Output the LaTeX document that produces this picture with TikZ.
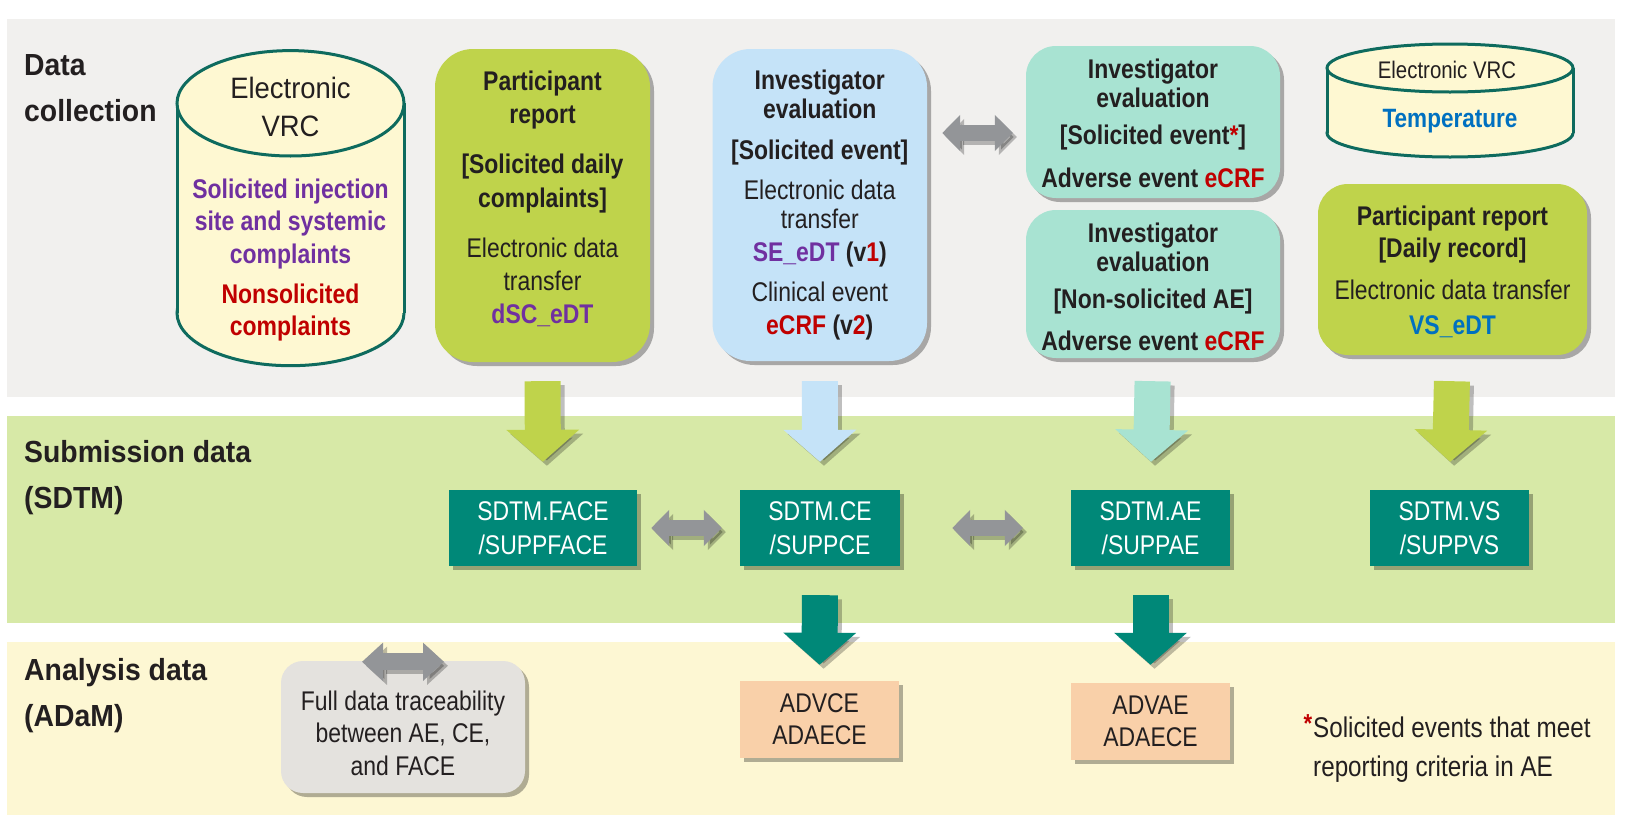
\documentclass[tikz,border=0pt]{standalone}
\usepackage{fontspec}
\setmainfont{Liberation Sans}
\newfontfamily\narf[FakeStretch=0.85]{Liberation Sans}
\newfontfamily\semif[FakeStretch=0.93]{Liberation Sans}
\usetikzlibrary{arrows.meta,shadows,calc}
\definecolor{bandgray}{HTML}{F1F0EE}
\definecolor{bandgreen}{HTML}{D7E9A7}
\definecolor{bandyellow}{HTML}{FDF7D3}
\definecolor{cylfill}{HTML}{FEF8D2}
\definecolor{cylline}{HTML}{0E6B5E}
\definecolor{cgreen}{HTML}{BFD34B}
\definecolor{cblue}{HTML}{C5E3F8}
\definecolor{cmint}{HTML}{A8E3D2}
\definecolor{cteal}{HTML}{008878}
\definecolor{cpeach}{HTML}{F9D0A9}
\definecolor{cgraybox}{HTML}{E4E2DE}
\definecolor{arrgray}{HTML}{939598}
\definecolor{cpurple}{HTML}{7030A0}
\definecolor{cred}{HTML}{C00000}
\definecolor{tblue}{HTML}{0070C0}
\definecolor{ink}{HTML}{231F20}
\newcommand\myfs[2]{\fontsize{#1}{#2}\selectfont}
\newcommand\blockarrow[3]{\draw[#1,arrshadow] #2 -- #3; \draw[#1] #2 -- #3;}
\tikzset{
 shadowed/.style={drop shadow={shadow xshift=4pt,shadow yshift=-4pt,opacity=0.3,fill=black}},
 box/.style={shadowed,inner sep=0pt,draw=none},
 txt/.style={inner sep=0pt,align=center,text=ink},
 lbl/.style={inner sep=0pt,align=left,anchor=west,text=ink,font=\semif\bfseries\myfs{30.5}{46}},
 sdtm/.style={box,fill=cteal,text=white,align=center,font=\narf\myfs{27}{34},minimum height=76pt},
 adv/.style={box,fill=cpeach,text=ink,align=center,font=\narf\myfs{27}{32},minimum height=77pt},
 downarr/.style={line width=36pt,-{Triangle[width=71pt,length=32pt]}},
 dblarr/.style={line width=16pt,draw=arrgray,{Triangle[width=35pt,length=18pt]}-{Triangle[width=35pt,length=18pt]}},
 dblarrb/.style={line width=17pt,draw=arrgray,{Triangle[width=37pt,length=21pt]}-{Triangle[width=37pt,length=21pt]}},
 arrshadow/.style={draw=black,opacity=0.25,transform canvas={xshift=4pt,yshift=-4pt}},
 cyl/.style={fill=cylfill,draw=cylline,line width=3pt},
}
\begin{document}
\begin{tikzpicture}[x=1pt,y=-1pt]
\useasboundingbox (0,0) rectangle (1625,830);
\fill[white] (0,0) rectangle (1625,830);
% bands
\fill[bandgray] (7,19) rectangle (1615,397);
\fill[bandgreen] (7,416) rectangle (1615,623);
\fill[bandyellow] (7,642) rectangle (1615,815);
% section labels
\node[lbl] (lcoll) at (24,88) {Data\\collection};
\node[lbl] (lsdtm) at (24,477.5) {Submission data\\(SDTM)};
\node[lbl] (ladam) at (24,695.5) {Analysis data\\(ADaM)};
% cylinder 1
\filldraw[cyl] (290.5,313) ellipse (113.5 and 52.7);
\fill[cylfill] (177,103.3) rectangle (404,313);
\draw[cylline,line width=3pt] (177,103.3) -- (177,313) (404,103.3) -- (404,313);
\filldraw[cyl] (290.5,103.3) ellipse (113.5 and 52.7);
\node[txt,font=\semif\myfs{29.5}{38}] (cyl1a) at (290.5,107) {Electronic\\VRC};
\node[txt,font=\narf\bfseries\myfs{27}{32.5}] (cyl1b) at (290.5,260) {\textcolor{cpurple}{Solicited injection}\\\textcolor{cpurple}{site and systemic}\\\textcolor{cpurple}{complaints}\\[7.5pt]\textcolor{cred}{Nonsolicited}\\\textcolor{cred}{complaints}};
% cylinder 2
\filldraw[cyl] (1450,133) ellipse (123 and 24);
\fill[cylfill] (1327,68) rectangle (1573,133);
\draw[cylline,line width=3pt] (1327,68) -- (1327,133) (1573,68) -- (1573,133);
\filldraw[cyl] (1450,68) ellipse (123 and 24);
\node[txt,font=\narf\myfs{24}{24}] (cyl2a) at (1447,70) {Electronic VRC};
\node[txt,font=\narf\bfseries\myfs{26.5}{26.5},text=tblue] (cyl2b) at (1450,121) {Temperature};
% top boxes
\node[box,fill=cgreen,rounded corners=38pt,minimum width=215pt,minimum height=313pt] (b2) at (542.5,205.5) {};
\node[txt,font=\narf\myfs{27}{33.3}] (b2t) at (542.5,199) {\textbf{Participant}\\\textbf{report}\\[16.7pt]\textbf{[Solicited daily}\\\textbf{complaints]}\\[16.7pt]Electronic data\\transfer\\\textbf{\textcolor{cpurple}{dSC\_eDT}}};
\node[box,fill=cblue,rounded corners=38pt,minimum width=214.5pt,minimum height=312pt] (b3) at (819.75,205) {};
\node[txt,font=\narf\myfs{27}{28.5}] (b3t) at (819.75,205.2) {\textbf{Investigator}\\\textbf{evaluation}\\[13.2pt]\textbf{[Solicited event]}\\[11.5pt]Electronic data\\transfer\\[4.8pt]\textbf{\textcolor{cpurple}{SE\_eDT} (v\textcolor{cred}{1})}\\[11.5pt]Clinical event\\[4.8pt]\textbf{\textcolor{cred}{eCRF} (v\textcolor{cred}{2})}};
\node[box,fill=cmint,rounded corners=30pt,minimum width=254pt,minimum height=152pt] (b4) at (1153,122) {};
\node[txt,font=\narf\bfseries\myfs{27}{28.4}] (b4t) at (1153,123.5) {Investigator\\evaluation\\[8.3pt]{[}Solicited event\textcolor{cred}{*}]\\[14.9pt]Adverse event \textcolor{cred}{eCRF}};
\node[box,fill=cmint,rounded corners=30pt,minimum width=254pt,minimum height=148pt] (b5) at (1153,284) {};
\node[txt,font=\narf\bfseries\myfs{27}{29}] (b5t) at (1153,286.9) {Investigator\\evaluation\\[7.7pt]{[}Non-solicited AE]\\[12.7pt]Adverse event \textcolor{cred}{eCRF}};
\node[box,fill=cgreen,rounded corners=30pt,minimum width=269pt,minimum height=171pt] (vsb) at (1452.5,269.5) {};
\node[txt,font=\narf\myfs{27}{31.5}] (vsbt) at (1452.5,272) {\textbf{Participant report}\\\textbf{[Daily record]}\\[10.5pt]Electronic data transfer\\[3.5pt]\textbf{\textcolor{tblue}{VS\_eDT}}};
% SDTM boxes
\node[sdtm,minimum width=188pt] (face) at (543,528) {SDTM.FACE\\/SUPPFACE};
\node[sdtm,minimum width=160pt] (ce) at (820,528) {SDTM.CE\\/SUPPCE};
\node[sdtm,minimum width=159pt] (ae) at (1150.5,528) {SDTM.AE\\/SUPPAE};
\node[sdtm,minimum width=159pt] (vs) at (1449.5,528) {SDTM.VS\\/SUPPVS};
% ADaM boxes
\node[adv,minimum width=159pt] (advce) at (819.5,719.5) {ADVCE\\ADAECE};
\node[adv,minimum width=159pt] (advae) at (1150.5,721.5) {ADVAE\\ADAECE};
\node[box,fill=cgraybox,rounded corners=22pt,minimum width=244pt,minimum height=132pt] (tr) at (403,727) {};
\node[txt,font=\narf\myfs{27}{32.5}] (trt) at (403,733) {Full data traceability\\between AE, CE,\\and FACE};
% footnote
\node[txt,align=left,anchor=west,font=\narf\myfs{28.5}{39}] (note) at (1313,748.5) {\llap{\textcolor{cred}{\raisebox{5pt}{\bfseries\myfs{26}{26}*}}\hspace{1pt}}Solicited events that meet\\reporting criteria in AE};
% block arrows down
\blockarrow{downarr,draw=cgreen,shorten <=19pt,shorten >=28pt}{(b2.south)}{(face.north)}
\blockarrow{downarr,draw=cblue,shorten <=20pt,shorten >=28pt}{(b3.south)}{(ce.north)}
\blockarrow{downarr,draw=cmint,shorten <=23pt,shorten >=28pt}{(b5.south)}{(ae.north)}
\blockarrow{downarr,draw=cgreen,shorten <=26pt,shorten >=28pt}{(vsb.south)}{(vs.north)}
\blockarrow{downarr,draw=cteal,shorten <=29pt,shorten >=16pt}{(ce.south)}{(advce.north)}
\blockarrow{downarr,draw=cteal,shorten <=29pt,shorten >=18pt}{(ae.south)}{(advae.north)}
% double arrows
\coordinate (ym) at (0,133);
\blockarrow{dblarr,shorten <=15pt,shorten >=13pt}{(b3.east |- ym)}{(b4.west |- ym)}
\blockarrow{dblarr,shorten <=14pt,shorten >=18pt}{(face.east)}{(ce.west)}
\blockarrow{dblarr,shorten <=52pt,shorten >=48pt}{(ce.east)}{(ae.west)}
\coordinate (trL) at ($(tr.north)+(-41,1)$);
\coordinate (trR) at ($(tr.north)+(41,1)$);
\blockarrow{dblarrb}{(trL)}{(trR)}
\end{tikzpicture}
\end{document}
